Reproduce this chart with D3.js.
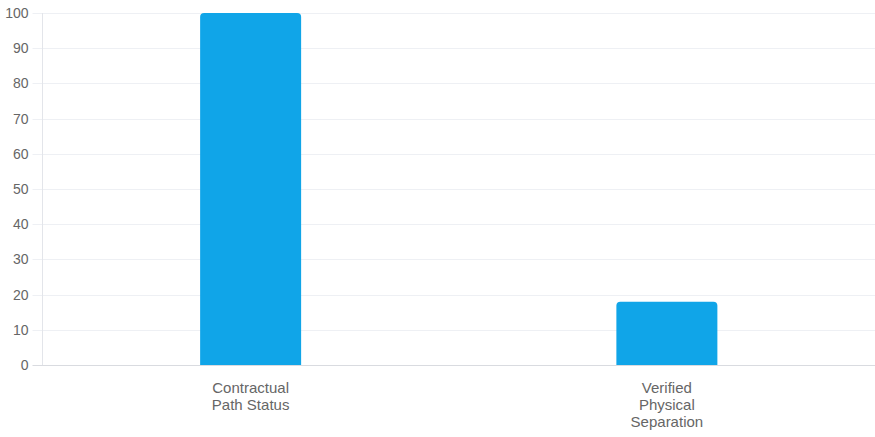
<!DOCTYPE html>
<html><head><meta charset="utf-8">
<script src="https://cdn.jsdelivr.net/npm/d3@7"></script>
<style>body{margin:0;background:#fff;}svg{display:block;font-family:"Liberation Sans",Arial,sans-serif;}</style>
</head><body>
<svg id="c" width="875" height="437"></svg>
<script>
const categories = [["Contractual","Path Status"],["Verified","Physical","Separation"]];
const values = [100, 18];
const yTicks = [0,10,20,30,40,50,60,70,80,90,100];

const svg = d3.select("#c");
const m = {l:42.5, r:875, t:13, b:365};
const x = d3.scaleBand().domain(d3.range(values.length)).range([m.l, m.r]).paddingInner(0).paddingOuter(0);
const y = d3.scaleLinear().domain([0,100]).range([m.b, m.t]);

// grid
svg.append("g").selectAll("line").data(yTicks.filter(d=>d>0)).join("line")
  .attr("x1", m.l-10).attr("x2", m.r).attr("y1", d=>Math.round(y(d))+0.5).attr("y2", d=>Math.round(y(d))+0.5)
  .attr("stroke", "#eef0f4").attr("stroke-width",1);
// y axis line
svg.append("line").attr("x1", m.l).attr("x2", m.l).attr("y1", m.t).attr("y2", m.b).attr("stroke","#e3e5ea");
// zero line
svg.append("line").attr("x1", m.l-10).attr("x2", m.r).attr("y1", m.b+0.5).attr("y2", m.b+0.5).attr("stroke","#d9dbe0");

// tick labels
svg.append("g").selectAll("text").data(yTicks).join("text")
  .attr("x", 28.5).attr("y", d=>y(d)).attr("dy","0.35em").attr("text-anchor","end")
  .attr("fill","#666").attr("font-size","14px").text(d=>d);

// bars
const bw = 101, r = 4;
svg.append("g").selectAll("path").data(values).join("path")
  .attr("d", (d,i)=>{
    const cx = x(i) + x.bandwidth()/2;
    const x0 = cx - bw/2, x1 = cx + bw/2, y0 = y(d), y1 = y(0);
    return `M${x0},${y1}L${x0},${y0+r}Q${x0},${y0} ${x0+r},${y0}L${x1-r},${y0}Q${x1},${y0} ${x1},${y0+r}L${x1},${y1}Z`;
  })
  .attr("fill","#10a5e8");

// category labels
const lab = svg.append("g").selectAll("text").data(categories).join("text")
  .attr("x",(d,i)=>x(i)+x.bandwidth()/2).attr("y",393).attr("text-anchor","middle")
  .attr("fill","#666").attr("font-size","15px");
lab.selectAll("tspan").data(d=>d).join("tspan")
  .attr("x", function(){return this.parentNode.getAttribute("x");})
  .attr("dy",(d,i)=>i===0?0:"17px").text(d=>d);
</script>
</body></html>
